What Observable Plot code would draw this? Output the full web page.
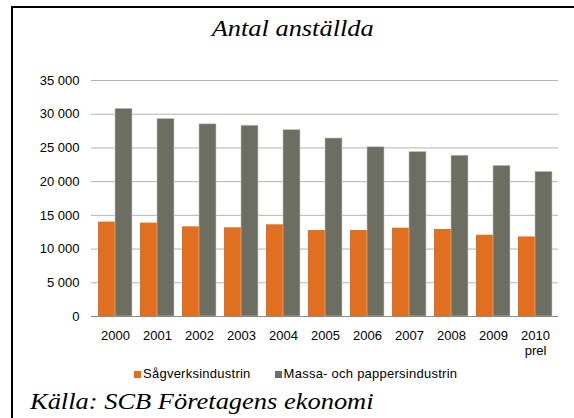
<!DOCTYPE html>
<html>
<head>
<meta charset="utf-8">
<script src="https://cdn.jsdelivr.net/npm/d3@7"></script>
<script src="https://cdn.jsdelivr.net/npm/@observablehq/plot@0.6"></script>
<style>
  html, body { margin: 0; padding: 0; background: #fff; width: 574px; height: 418px; overflow: hidden; }
  #frame { position: absolute; left: 11px; top: 6px; width: 600px; height: 450px; border-top: 2px solid #000; border-left: 2px solid #000; }
  #title { position: absolute; left: 11px; width: 563px; top: 13px; text-align: center; font-family: "Liberation Serif", "Times New Roman", serif; font-style: italic; font-size: 24px; line-height: 30px; color: #000; }
  #title span { display: inline-block; transform: scaleX(1.1); }
  #chart { position: absolute; left: 0; top: 60px; }
  #legend { position: absolute; left: 134px; top: 366px; font-family: "Liberation Sans", Arial, sans-serif; font-size: 13px; line-height: 16px; color: #000; display: flex; align-items: center; white-space: nowrap; }
  #legend .sw { display: inline-block; width: 7px; height: 7px; margin-right: 2px; }
  #legend .item { display: flex; align-items: center; }
  #caption { position: absolute; left: 30px; top: 388px; font-family: "Liberation Serif", "Times New Roman", serif; font-style: italic; font-size: 23px; line-height: 28px; color: #000; white-space: nowrap; transform-origin: 0 0; transform: scaleX(1.15); }
</style>
</head>
<body>
<div id="frame"></div>
<div id="title"><span>Antal anställda</span></div>
<div id="chart"></div>
<div id="legend"></div>
<div id="caption">Källa: SCB Företagens ekonomi</div>
<script>
const years = ["2000","2001","2002","2003","2004","2005","2006","2007","2008","2009","2010"];
const yearLabels = ["2000","2001","2002","2003","2004","2005","2006","2007","2008","2009","2010\nprel"];
const seriesNames = ["Sågverksindustrin", "Massa- och pappersindustrin"];
const sagverk = [14000, 13850, 13300, 13150, 13600, 12750, 12750, 13100, 12900, 12050, 11800];
const massa = [30800, 29300, 28500, 28300, 27650, 26400, 25100, 24400, 23850, 22350, 21450];
const colors = ["#E0701F", "#6D6E62"];
const yTicks = [0, 5000, 10000, 15000, 20000, 25000, 30000, 35000];

const rows = [];
years.forEach((y, i) => {
  rows.push({year: y, series: seriesNames[0], value: sagverk[i]});
  rows.push({year: y, series: seriesNames[1], value: massa[i]});
});

const W = 574, H = 300, ML = 91, MR = 16, MT = 20, MB = 44;
const padInner = 0.2, padOuter = 0.1;
// half of the band width, derived from the same band-scale parameters Plot uses
const band = d3.scaleBand().domain(years).range([ML, W - MR]).paddingInner(padInner).paddingOuter(padOuter);
const half = band.bandwidth() / 2;

const fmt = d => d === 0 ? "0" : d3.format(",")(d).replace(/,/g, " ");

const chart = Plot.plot({
  width: W, height: H,
  marginLeft: ML, marginRight: MR, marginTop: MT, marginBottom: MB,
  style: {fontFamily: "'Liberation Sans', Arial, sans-serif", fontSize: "13px", color: "#000", background: "transparent", overflow: "visible"},
  x: {domain: years, paddingInner: padInner, paddingOuter: padOuter, label: null, axis: null},
  y: {domain: [0, 35000], ticks: yTicks, tickFormat: fmt, tickSize: 0, tickPadding: 12, label: null},
  color: {domain: seriesNames, range: colors},
  marks: [
    Plot.ruleY(yTicks.filter(d => d > 0), {stroke: "#b4b4b4", strokeWidth: 1}),
    Plot.barY(rows.filter(d => d.series === seriesNames[0]), {x: "year", y: "value", fill: "series", insetRight: half}),
    Plot.barY(rows.filter(d => d.series === seriesNames[1]), {x: "year", y: "value", fill: "series", insetLeft: half, stroke: "#c9c9c2", strokeWidth: 0.6}),
    Plot.ruleY([0], {stroke: "#8a8a8a", strokeWidth: 1.2}),
    Plot.axisX({tickSize: 0, tickPadding: 13, label: null, lineHeight: 1.15, tickFormat: d => yearLabels[years.indexOf(d)]})
  ]
});
document.getElementById("chart").appendChild(chart);

const legend = document.getElementById("legend");
const gaps = [23, 0];
seriesNames.forEach((s, i) => {
  const item = document.createElement("span");
  item.className = "item";
  item.style.marginRight = (i === 0 ? 24 : 0) + "px";
  const sw = document.createElement("span");
  sw.className = "sw";
  sw.style.background = colors[i];
  item.appendChild(sw);
  const t = document.createElement("span");
  t.textContent = s;
  t.style.letterSpacing = "0.25px";
  item.appendChild(t);
  legend.appendChild(item);
});
</script>
</body>
</html>
